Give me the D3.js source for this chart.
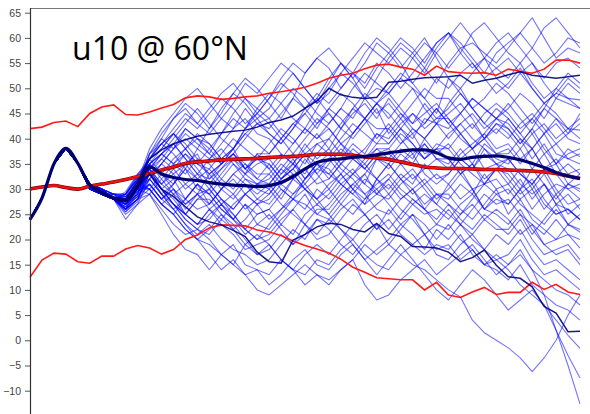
<!DOCTYPE html>
<html><head><meta charset="utf-8">
<script src="https://cdn.jsdelivr.net/npm/d3@7"></script>
<style>html,body{margin:0;padding:0;background:#fff;} svg{display:block;}</style>
</head><body>
<svg id="chart" width="590" height="414"></svg>
<script>
// ---- data ----
const titleText = "u10 @ 60°N";
const yTicks = [-10,-5,0,5,10,15,20,25,30,35,40,45,50,55,60,65];
const dayCount = 47;
const initialPath = [24, 28.2, 35, 38.1, 35.1];

const climMean = [30,30.4,30.7,30.3,30, 30.6,31,31.4,31.9,32.5, 33.1,33.8,34.4,35.1,35.4, 35.6,35.8,35.9,36,36.1, 36.3,36.4,36.5,36.7,36.9, 36.9,36.9,36.7,36.4,36.2, 35.9,35.4,34.9,34.4,34.2, 34.1,34.1,34,33.9,33.9, 33.8,33.7,33.6,33.4,33.1, 32.6,32.1];
const climUpper = [42,42.3,43.2,43.5,42.4, 45,46.3,46.7,44.8,44.7, 45.3,46.1,46.8,48.1,48.5, 48.3,47.8,48,48.3,48.5, 49,49.3,49.7,50.2,51, 52,52.6,53,53.9,54.6, 54.8,54.2,53.8,52.6,54.4, 53.3,53.1,53,53.1,52.6, 53.8,53.4,53,53.8,55.6, 55.6,55];
const climLower = [12.5,15.9,17.3,17.1,15.6, 15.3,16.7,16.7,18.1,18.8, 18.3,17.1,18,20,20.9, 22.3,22.9,22.8,22.7,21.9, 21.5,20.8,19.7,18.8,18.1, 17.3,16.1,14.5,13.5,12.4, 12.2,12,12,10,11.5, 9,8.5,9.6,10.5,9.1, 9.5,9.5,11.5,10.1,11.1, 9.6,9.1];

const ensMean = [24,28.2,35,38.1,35.1, 30.8,29.4,28.2,27.7,30.5, 34.4,33,32.3,31.9,31.7, 31.3,31,30.8,30.7,30.5, 30.7,31.3,32.5,34,35.3, 35.8,36,36.3,36.5,36.8, 37.2,37.5,37.8,37.8,37.2, 36.2,35.9,36.3,36.5,36.6, 36.3,35.8,35.1,34.3,33.3, 32.6,32.1];
const controlHigh = [24,28.2,35,38.1,35.1, 31,29.5,28.5,28,31.5, 36,37.8,39,39.8,40.5,40.9,41.2,41.5,41.7,42.3, 43.2,43.7,44.5,46,47.5,50,48.7,48.2,48,48.2, 51.2,51.4,51.8,52.1,52.2,52.3,52.6,51,51.6,52, 52.7,53.3,52.6,52.3,52,52.3,52.6];
const controlLow = [24,28.2,35,38.1,35.1, 30.5,29,28,27.5,30.5, 33,30,28.5,26.5,24.5,23.5,22.9,21.8,20.6,17.5, 15.6,15.3,19.9,21,22.5,23.2,23,22,21.5,23.2, 21.2,20.6,18.6,18.5,18.3,17.5,15.6,16.4,17.9,14.9, 12.6,12.3,10.6,6.7,5.4,1.7,1.8];

// ensemble members, day 5 .. day 46
const members = [
[31,30,29,28,32, 36,40,44,47,45,42,45,49,52,50, 47,44,48,53,56,54,50,53,57,60, 58,55,51,54,58,61,59,56,53,57, 59,61,58,55,57,60,59],
[30,29,28,27,29, 35,37,40,43,46,43,40,38,42,46, 49,47,44,42,46,50,53,51,48,52, 56,59,57,54,51,55,58,59,57,55, 58,61,64,60,56,58,57],
[30,29,28,26,31, 36,39,37,34,38,42,46,49,47,44, 46,50,53,50,47,49,53,56,59,57, 55,58,56,53,57,60,63,60,56,52, 50,53,55,51,48,47,46],
[31,30,28,26,28, 33,35,38,41,39,37,41,45,48,46, 44,47,50,48,45,43,46,50,53,51, 49,52,56,59,57,54,57,61,63,60, 57,55,58,62,64,61,58],
[30,29,29,29,33, 36,38,41,44,42,45,48,46,43,45, 48,51,49,46,48,52,55,53,50,54, 57,60,58,55,59,61,57,54,56,59, 61,58,55,52,55,56,54],
[31,29,28,27.5,30, 37,41,44,46,43,46,49,51,48,45, 48,52,55,53,56,58,55,52,55,59, 57,54,57,60,56,52,50,46,43,46, 44,41,44,47,45,42,44],
[30,30,29,28.5,31.5, 38,42,45,48,50,47,44,47,51,49, 52,55,53,50,47,51,55,52,48,45, 47,44,41,43,46,43,40,38,41,44, 42,39,42,46,44,41,45],
[31,29,28,26,29, 35,37,35,38,41,39,36,38,42,44, 41,39,42,46,49,47,50,53,51,55, 53,50,53,56,59,61,58,55,52,49, 51,54,50,47,49,52,50],
[30,29,28,29,32, 34,36,39,42,40,37,35,38,41,39, 37,40,43,45,42,46,49,47,44,47, 49,52,50,46,43,47,50,53,56,54, 52,55,51,48,50,53,51],
[31,30,28,27,30, 33,31,34,37,35,38,41,44,42,45, 43,40,37,40,43,45,42,46,49,47, 50,53,51,48,45,52,49,46,48,51, 49,46,43,46,50,48,47.7],
[30,29,29,28,31, 37,39,41,38,35,33,35,38,41,43, 42,45,48,46,43,46,44,41,44,47, 44,47,50,48,52,50,53,55,52,54, 56,53,50,47,49,48,46],
[30,29,28,25.5,28, 34,37,39,36,33,36,38,35,32,31, 33,36,39,42,40,43,46,44,48,50, 49,46,43,45,47,44,41,38,40,42, 40,43,45,42,39,41,43],
[31,30,29,28.5,30.5, 32,35,33,30,32,34,37,40,38,36, 39,42,40,37,35,37,40,43,41,39, 42,45,43,47,44,46,49,46,43,41, 44,41,38,41,44,42,41.7],
[30,29,28,27,29, 35,32,29,27,29,30,33,36,34,37, 37,40,43,41,44,42,39,36,38,41, 39,42,45,43,46,43,45,48,46,44, 47,44,41,43,40,42,40],
[31,29,28,29,32.5, 33,36,34,31,29,33,30,28,31,29, 31,34,37,35,39,40,43,46,44,47, 45,42,39,36,38,38,41,43,40,43, 42,39,42,38,35,37,38],
[30,30,28,26.5,30, 36,39,41,38,40,38,35,37,34,36, 35,32,34,31,34,33,36,39,37,41, 40,43,45,42,44,44,41,38,40,37, 37,40,36,39,35,38,36.4],
[30,29,28,27,28.5, 31,28,26,28,31,29,32,35,33,37, 34,37,35,39,36,38,35,33,36,38, 36,39,42,40,43,40,43,45,42,44, 43,40,38,41,37,36,35],
[31,30,28,28,31, 34,37,35,33,36,35,32,30,33,31, 30,33,35,32,34,36,39,41,44,40, 43,40,37,39,36,35,38,35,39,37, 38,35,38,34,36,33,34],
[30,29,28,26,29.5, 32,29,31,34,32,31,28,26,29,27, 28,31,33,30,32,35,38,36,34,37, 38,41,39,36,38,41,43,40,38,36, 35,38,34,37,33,35,33],
[31,29,28,29.5,33, 35,33,30,28,26,27,30,32,29,31, 32,35,33,30,28,30,33,36,34,37, 37,35,32,34,36,34,37,39,41,38, 39,36,38,34,33,30,31],
[30,29,28,27.5,30, 30,33,31,35,37,32,34,36,33,35, 36,33,36,32,35,34,31,29,32,30, 32,35,38,36,39,38,35,33,31,34, 33,30,34,31,28,31,29.5],
[31,30,28,26,28, 33,30,32,28,31,29,26,24,27,25, 26,29,32,34,31,32,35,37,34,32, 35,32,29,31,28,30,33,35,32,34, 36,33,31,34,30,27,28],
[30,29,28,28.5,31.5, 36,33,36,38,35,34,31,29,32,30, 29,32,34,37,39,37,34,32,29,31, 33,30,28,26,29,28,31,29,33,30, 31,28,30,26,29,25,27],
[30,30,28,27,29, 31,28,30,27,29,26,24,27,29,31, 31,28,32,30,27,29,32,34,31,36, 34,37,35,39,36,36,33,30,31,32, 29,32,28,31,27,29,26],
[31,29,28,29,32, 34,31,29,31,33,30,27,29,26,28, 27,30,28,32,35,33,31,29,27,32, 30,33,31,35,32,33,36,34,37,35, 34,31,29,31,27,26,24],
[30,29,28,26.5,28.5, 32,29,27,25,28,28,25,22,24,27, 24,26,29,31,28,31,33,30,27,29, 28,31,33,30,27,31,34,30,26,28, 27,30,32,28,25,26,23.9],
[30,29,28,28,30, 29,32,35,37,34,31,34,37,35,33, 33,30,28,26,30,28,31,33,35,32, 35,32,30,27,29,27,25,28,31,29, 30,27,25,23,26,23,22],
[31,30,29,27,31, 33,30,27,24,22,25,27,24,21,23, 22,25,28,27,25,27,30,33,31,29, 31,28,30,32,29,29,26,24,27,30, 25,28,24,22,20,23,21.5],
[30,29,28,25.5,27.5, 35,37,39,36,33,32,35,37,34,32, 35,32,34,37,33,30,27,25,28,30, 27,24,27,29,27,25,23,26,29,27, 28,25,23,21,24,21,20],
[30,29,28,28,30.5, 30,27,25,28,31,27,30,33,31,28, 30,27,25,23,26,26,29,31,33,29, 32,29,27,25,26,24,27,29,26,25, 23,26,22,19,20,21,18.3],
[31,30,28,29,32, 34,30,27,25,23,24,27,25,22,20, 23,26,28,30,28,25,28,31,29,26, 25,28,30,26,24,27,24,22,25,23, 21,24,20,17,18,19,16],
[30,29,28,26,28, 31,28,31,34,30,29,26,24,27,23, 25,22,19,21,24,23,26,28,25,27, 29,26,24,21,23,22,25,27,24,26, 24,21,23,19,17,18,15],
[31,29,28,27.5,29.5, 33,30,28,25,23,26,23,21,18,19, 20,23,21,25,27,25,22,20,23,25, 22,25,28,26,23,26,23,20,18,21, 19,22,18,15,16,14,12],
[30,29,28,28.5,31, 30,27,25,22,20,22,25,23,20,17, 18,21,19,23,20,21,24,27,25,22, 26,23,21,18,22,20,23,21,18,16, 17,20,16,13,14,12,10],
[31,30,28,25,27, 32,29,26,23,21,23,20,18,17,15, 16,19,22,20,24,22,19,17,20,23, 19,22,25,23,20,23,20,18,15,17, 15,18,14,12,10,9,7],
[30,29,28,24,27, 29,26,23,21,22,20,17,19,15,14, 13,16,14,17,19,17,20,23,25,22, 24,21,19,17,19,18,21,17,15,14, 12,15,11,9,7,6,4],
[31,30,29,27,30.5, 34,30,27,24,22,21,24,22,19,17, 19,16,14,13,16,15,18,20,17,15, 14,17,19,21,18,19,16,18,15,16, 14,11,9,7,4,1,-1.6],
[30,29,28,26,28, 29,25,21,18,17,14,17,15,19,21, 19,16,14,11,13,11,14,16,19,17, 19,17,15,14,12,10,8.6,4,1.5,0, -1.5,-3.5,-6.2,-3.5,0,5,9],
[30,29,28,28,31.5, 30,27,25,22,20,19,17,15,13,14, 11,13,16,18,15,14,17,19,16,13, 16,19,16,13,10,8,11,14,12,9, 6,8,10,7,2,-3,-7.5],
[31,30,28,27.5,29, 33,29,26,23,20,17,14,16,13,10, 9,11,13,15,13,12,14,16,11,8, 9,12,14,16,13,15,17,19,16,13, 15,17,14,9,2,-5,-12.6],
[30,29,29,29,32, 35,38,41,39,36,33,35,37,40,43, 41,39,42,45,48,45,42,40,43,46, 41,44,47,50,48,48,45,42,45,47, 45,42,44,41,43,40,39],
[31,30,28,26.5,28.5, 32,35,38,40,38,36,39,42,44,41, 40,37,35,38,41,38,42,45,47,44, 48,45,42,40,43,42,45,48,46,44, 46,49,47,44,48,51,49],
[30,29,28,28,30, 34,31,33,35,32,31,28,26,29,27, 29,32,35,33,37,40,37,41,44,42, 42,39,41,37,38,36,33,35,31,34, 31,34,30,33,29,31,30],
[31,29,28,27,31, 37,40,38,42,40,39,36,38,34,36, 34,31,29,32,35,32,35,38,36,39, 39,42,40,44,43,45,47,44,40,43, 41,38,41,37,39,36,37],
[30,29,28,26,28, 30,27,29,25,23,26,28,25,22,20, 21,24,26,23,21,24,22,19,16,18, 20,23,25,21,17,16,19,21,24,22, 22,25,21,24,27,23,25],
[30,30,28,29,32.5, 36,39,42,45,43,41,44,42,46,43, 44,41,39,42,40,42,39,37,35,38, 38,35,37,33,31,33,36,34,38,35, 36,33,31,34,35,31,33],
[31,30,28,27.5,30, 33,30,27,25,28,30,27,24,22,25, 26,23,26,29,25,24,27,30,33,36, 35,38,36,40,37,39,36,38,34,35, 32,29,31,27,25,26,24],
[30,29,28,28,29.5, 31,28,30,26,29,27,30,33,35,32, 31,34,32,36,33,36,33,30,28,32, 29,32,34,31,33,31,28,30,26,29, 27,30,26,29,31,30,28]
];

// ---- drawing ----
const svg = d3.select("#chart");
const x = d3.scaleLinear().domain([0, dayCount - 1]).range([30, 580]);
const y = d3.scaleLinear().domain([-10, 65]).range([390.7, 12.7]);
const line = d3.line().x((d, i) => x(i)).y(d => y(d));
const smoothLine = d3.line().x((d, i) => x(i)).y(d => y(d)).curve(d3.curveMonotoneX);

// frame
svg.append("line").attr("x1", 30).attr("x2", 590).attr("y1", 8.5).attr("y2", 8.5)
  .attr("stroke", "#777").attr("stroke-width", 1);

// ensemble members
svg.append("g").selectAll("path").data(members).join("path")
  .attr("d", m => line(initialPath.concat(m)))
  .attr("fill", "none").attr("stroke", "#0000ff")
  .attr("stroke-opacity", 0.55).attr("stroke-width", 1.1)
  .attr("stroke-linejoin", "round");

// climatology
svg.append("path").attr("d", line(climUpper)).attr("fill", "none")
  .attr("stroke", "#ff1a1a").attr("stroke-width", 1.6);
svg.append("path").attr("d", line(climLower)).attr("fill", "none")
  .attr("stroke", "#ff1a1a").attr("stroke-width", 1.6);
svg.append("path").attr("d", smoothLine(climMean)).attr("fill", "none")
  .attr("stroke", "#7a0000").attr("stroke-width", 3.6);
svg.append("path").attr("d", smoothLine(climMean)).attr("fill", "none")
  .attr("stroke", "#ee1111").attr("stroke-width", 2.4);

// control runs
[controlHigh, controlLow].forEach(c => {
  svg.append("path").attr("d", line(c)).attr("fill", "none")
    .attr("stroke", "#000080").attr("stroke-width", 1.5).attr("stroke-opacity", 0.9);
});

// ensemble mean
svg.append("path").attr("d", smoothLine(ensMean)).attr("fill", "none")
  .attr("stroke", "#000070").attr("stroke-width", 3.2).attr("stroke-linejoin", "round");

// y axis
const yAxis = d3.axisLeft(y).tickValues(yTicks).tickSize(5).tickPadding(4);
const gAxis = svg.append("g").attr("transform", "translate(30,0)").call(yAxis);
gAxis.select(".domain").remove();
gAxis.selectAll(".tick line").attr("stroke", "#555");
gAxis.selectAll(".tick text").attr("font-family", "'Liberation Sans', Arial, sans-serif")
  .attr("font-size", 10.5).attr("fill", "#444");
svg.append("line").attr("x1", 30.5).attr("x2", 30.5).attr("y1", 8).attr("y2", 414)
  .attr("stroke", "#333").attr("stroke-width", 1.2);

// title
svg.append("text").attr("x", 72).attr("y", 60)
  .attr("font-family", "'Open Sans', sans-serif").attr("font-size", 32)
  .attr("fill", "#000").text(titleText);
</script>
</body></html>
